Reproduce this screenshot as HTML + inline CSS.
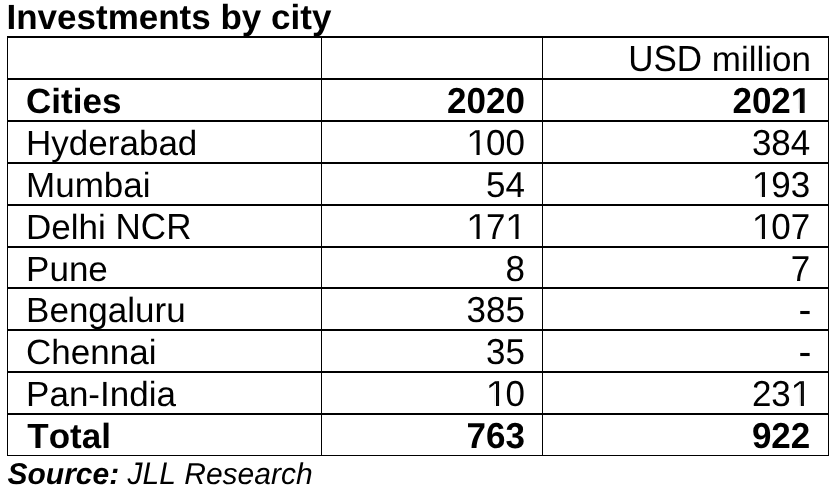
<!DOCTYPE html>
<html><head><meta charset="utf-8"><title>Investments by city</title>
<style>
html,body{margin:0;padding:0;background:#fff;}
body{width:830px;height:495px;position:relative;overflow:hidden;font-family:"Liberation Sans",Arial,sans-serif;color:#000;}
#w{position:absolute;left:0;top:0;width:830px;height:495px;will-change:transform;font-kerning:none;text-rendering:geometricPrecision;}
.t{position:absolute;font-size:35px;line-height:40px;white-space:nowrap;}
.b{font-weight:bold;}
.r{text-align:right;}
.s{position:absolute;font-size:30px;line-height:40px;white-space:nowrap;font-style:italic;}
.u{display:inline-block;}
.t .u{transform:scaleY(1.0405);transform-origin:0 32.13px;}
.s .u{transform:scaleY(1.0405);transform-origin:0 30.40px;}
.n{transform:scaleY(1.03);transform-origin:0 32.13px;}
.h{transform:translateY(0.25px) scale(1.106,1.13);transform-origin:5.83px 21.9px;}
</style></head><body>
<svg width="830" height="495" shape-rendering="crispEdges" style="position:absolute;left:0;top:0">
<rect x="7" y="36" width="822" height="2" fill="#000"/>
<rect x="7" y="78" width="822" height="2" fill="#000"/>
<rect x="7" y="120" width="822" height="2" fill="#000"/>
<rect x="7" y="162" width="822" height="2" fill="#000"/>
<rect x="7" y="204" width="822" height="2" fill="#000"/>
<rect x="7" y="246" width="822" height="2" fill="#000"/>
<rect x="7" y="287" width="822" height="2" fill="#000"/>
<rect x="7" y="329" width="822" height="2" fill="#000"/>
<rect x="7" y="371" width="822" height="2" fill="#000"/>
<rect x="7" y="413" width="822" height="2" fill="#000"/>
<rect x="7" y="455" width="822" height="1" fill="#000"/>
<rect x="7" y="36" width="1" height="420" fill="#000"/>
<rect x="321" y="36" width="1" height="420" fill="#000"/>
<rect x="542" y="36" width="1" height="420" fill="#000"/>
<rect x="828" y="36" width="1" height="420" fill="#000"/>
</svg>
<div id="w">
<div class="t b" style="left:6.5px;top:-2px">Investments by city</div>
<div class="t r" style="right:19.00px;top:40px"><span class="u">USD</span> million</div>
<div class="t b" style="left:26.1px;top:82px">Cities</div>
<div class="t b r n" style="right:305.05px;top:82px">2020</div>
<div class="t b r n" style="right:19.70px;top:82px">2021</div>
<div class="t" style="left:26.1px;top:124px">Hyderabad</div>
<div class="t r n" style="right:305.05px;top:124px">100</div>
<div class="t r n" style="right:19.70px;top:124px">384</div>
<div class="t" style="left:26.1px;top:166px">Mumbai</div>
<div class="t r n" style="right:305.05px;top:166px">54</div>
<div class="t r n" style="right:19.70px;top:166px">193</div>
<div class="t" style="left:26.1px;top:208px">Delhi <span class="u">NCR</span></div>
<div class="t r n" style="right:305.05px;top:208px">171</div>
<div class="t r n" style="right:19.70px;top:208px">107</div>
<div class="t" style="left:26.1px;top:250px">Pune</div>
<div class="t r n" style="right:305.05px;top:250px">8</div>
<div class="t r n" style="right:19.70px;top:250px">7</div>
<div class="t" style="left:26.1px;top:291px">Bengaluru</div>
<div class="t r n" style="right:305.05px;top:291px">385</div>
<div class="t r h" style="right:19.70px;top:291px">-</div>
<div class="t" style="left:26.1px;top:333px">Chennai</div>
<div class="t r n" style="right:305.05px;top:333px">35</div>
<div class="t r h" style="right:19.70px;top:333px">-</div>
<div class="t" style="left:26.1px;top:375px">Pan-India</div>
<div class="t r n" style="right:305.05px;top:375px">10</div>
<div class="t r n" style="right:19.70px;top:375px">231</div>
<div class="t b" style="left:27.3px;top:417px">Total</div>
<div class="t b r n" style="right:305.05px;top:417px">763</div>
<div class="t b r n" style="right:19.70px;top:417px">922</div>
<div class="s" style="left:7.5px;top:455px"><b>Source:</b> <span class="u">JLL</span> Research</div>
<svg width="830" height="495" fill="#fff" style="position:absolute;left:0;top:0"><rect x="791.84" y="108.82" width="7.16" height="4.88"/><rect x="803.81" y="108.82" width="6.72" height="4.88"/><rect x="798.50" y="92.14" width="1.30" height="21.56"/><rect fill="#000" x="803.31" y="88.20" width="1.30" height="24.80"/><rect x="468.02" y="151.81" width="7.34" height="3.89"/><rect x="478.45" y="151.81" width="7.06" height="3.89"/><rect x="474.86" y="132.82" width="1.66" height="22.88"/><rect fill="#000" x="477.95" y="130.20" width="1.66" height="24.80"/><rect x="753.37" y="193.81" width="7.34" height="3.89"/><rect x="763.80" y="193.81" width="7.06" height="3.89"/><rect x="760.21" y="174.82" width="1.66" height="22.88"/><rect fill="#000" x="763.30" y="172.20" width="1.66" height="24.80"/><rect x="468.02" y="235.81" width="7.34" height="3.89"/><rect x="478.45" y="235.81" width="7.06" height="3.89"/><rect x="474.86" y="216.82" width="1.66" height="22.88"/><rect fill="#000" x="477.95" y="214.20" width="1.66" height="24.80"/><rect x="506.95" y="235.81" width="7.34" height="3.89"/><rect x="517.38" y="235.81" width="7.06" height="3.89"/><rect x="513.79" y="216.82" width="1.66" height="22.88"/><rect fill="#000" x="516.88" y="214.20" width="1.66" height="24.80"/><rect x="753.37" y="235.81" width="7.34" height="3.89"/><rect x="763.80" y="235.81" width="7.06" height="3.89"/><rect x="760.21" y="216.82" width="1.66" height="22.88"/><rect fill="#000" x="763.30" y="214.20" width="1.66" height="24.80"/><rect x="487.49" y="402.81" width="7.34" height="3.89"/><rect x="497.91" y="402.81" width="7.06" height="3.89"/><rect x="494.32" y="383.82" width="1.66" height="22.88"/><rect fill="#000" x="497.41" y="381.20" width="1.66" height="24.80"/><rect x="792.30" y="402.81" width="7.34" height="3.89"/><rect x="802.73" y="402.81" width="7.06" height="3.89"/><rect x="799.14" y="383.82" width="1.66" height="22.88"/><rect fill="#000" x="802.23" y="381.20" width="1.66" height="24.80"/></svg>
</div>
</body></html>
